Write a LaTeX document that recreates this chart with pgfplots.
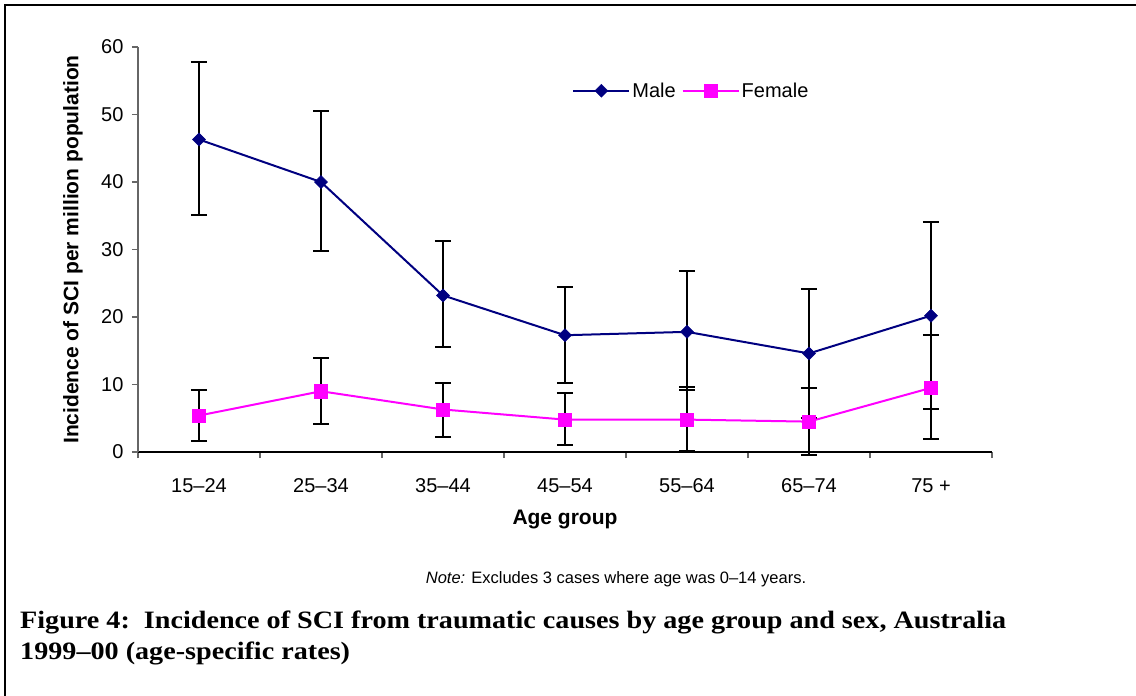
\documentclass[border=0pt]{standalone}
\usepackage{graphicx}
\usepackage{pgfplots}
\pgfplotsset{compat=1.18}
\usepackage{fontspec}
\setmainfont{Liberation Sans}
\newfontfamily\capfont{Liberation Serif}
\definecolor{navyx}{RGB}{0,0,128}
\definecolor{magx}{RGB}{255,0,255}
\begin{document}
\begin{tikzpicture}[x=1pt,y=1pt]
\path[use as bounding box] (0,0) rectangle (1136,-696);
\draw[line width=2.5pt] (5,-696) -- (5,-5) -- (1136,-5);
\begin{axis}[
  at={(138pt,-452pt)}, anchor=south west,
  scale only axis, width=854pt, height=405pt,
  xmin=0.5, xmax=7.5, ymin=0, ymax=60,
  axis x line*=bottom, axis y line*=left,
  x axis line style={-, black, line width=1.5pt},
  y axis line style={-, black!60, line width=1.2pt},
  tick align=outside, major tick length=6pt,
  tick style={black!60, line width=1.2pt},
  xtick={0.5,1.5,...,7.5},
  xticklabels={15–24,25–34,35–44,45–54,55–64,65–74,75 +,},
  x tick label as interval,
  ytick={0,10,...,60},
  font=\fontsize{20}{24}\selectfont,
  /pgf/number format/assume math mode=true,
  every x tick label/.append style={anchor=base, yshift=-34pt},
  every y tick label/.append style={xshift=-5pt},
  xlabel={\bfseries Age group},
  xlabel style={at={(axis description cs:0.5,0)}, anchor=center, yshift=-67pt, font=\fontsize{21}{24}\selectfont},
  ylabel={\bfseries Incidence of SCI per million population},
  ylabel style={at={(axis description cs:-0.0761,0.5)}, anchor=center, font=\fontsize{21}{24}\selectfont},
  clip=false,
  legend columns=2,
  legend style={draw=none, fill=none, at={(0.648,0.892)}, anchor=center,
    font=\fontsize{20}{24}\selectfont, inner sep=0pt,
    /tikz/every even column/.append style={column sep=4pt}},
  legend image code/.code={\draw[mark repeat=2,mark phase=2] plot coordinates {(0pt,0pt) (28pt,0pt) (56pt,0pt)};},
]
\addplot[navyx, line width=2pt, mark=square*, mark size=4.6pt,
  mark options={rotate=45, fill=navyx, draw=navyx, line width=0.5pt},
  error bars/.cd, y dir=both, y explicit,
  error bar style={black, line width=2pt},
  error mark options={rotate=90, black, mark size=8pt, line width=2pt}]
coordinates {
 (1,46.3) += (0,11.5) -= (0,11.2)
 (2,40.0) += (0,10.5) -= (0,10.2)
 (3,23.2) += (0,8.0) -= (0,7.6)
 (4,17.3) += (0,7.1) -= (0,7.1)
 (5,17.8) += (0,9.0) -= (0,8.6)
 (6,14.6) += (0,9.5) -= (0,9.5)
 (7,20.2) += (0,13.9) -= (0,13.9)
};
\addlegendentry{Male}
\addplot[magx, line width=2pt, mark=square*, mark size=6.6pt,
  mark options={fill=magx, draw=magx, line width=0.5pt},
  error bars/.cd, y dir=both, y explicit,
  error bar style={black, line width=2pt},
  error mark options={rotate=90, black, mark size=8pt, line width=2pt}]
coordinates {
 (1,5.4) += (0,3.8) -= (0,3.8)
 (2,9.0) += (0,5.0) -= (0,4.8)
 (3,6.3) += (0,3.9) -= (0,4.1)
 (4,4.8) += (0,3.9) -= (0,3.8)
 (5,4.8) += (0,4.8) -= (0,4.6)
 (6,4.5) += (0,5.0) -= (0,5.0)
 (7,9.5) += (0,7.8) -= (0,7.6)
};
\addlegendentry{Female}
\end{axis}
\node[anchor=base, inner sep=0pt, font=\fontsize{16.5}{20}\selectfont] at (616,-583) {\textit{Note:} Excludes 3 cases where age was 0–14 years.};
\node[anchor=base west, inner sep=0pt, font=\capfont\bfseries\fontsize{25}{28}\selectfont] at (20,-628) {\scalebox{1.126}[1]{Figure 4:\ \ Incidence of SCI from traumatic causes by age group and sex, Australia}};
\node[anchor=base west, inner sep=0pt, font=\capfont\bfseries\fontsize{25}{28}\selectfont] at (20,-659) {\scalebox{1.126}[1]{1999–00 (age-specific rates)}};
\end{tikzpicture}
\end{document}
